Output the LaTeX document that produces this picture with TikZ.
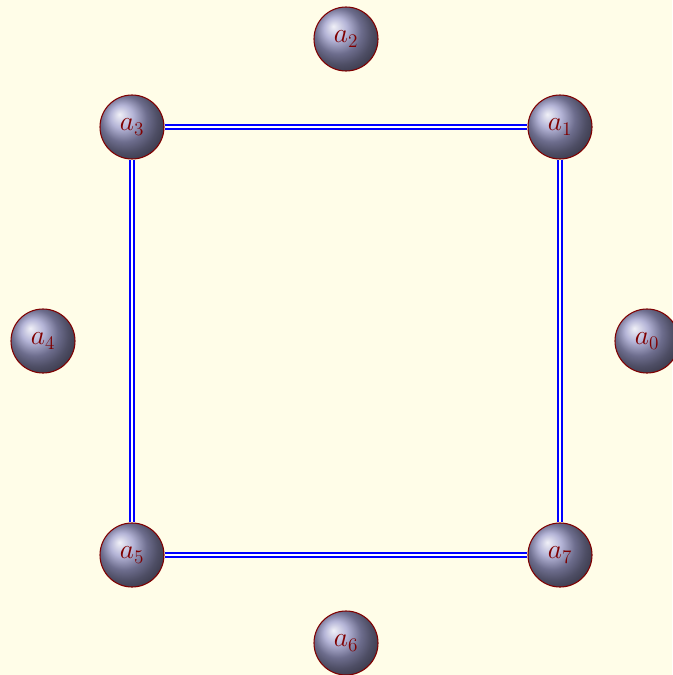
\documentclass[tikz,border=0pt]{standalone}
\definecolor{bgcream}{HTML}{FFFDE8}
\definecolor{labelred}{HTML}{800000}
\begin{document}
\begin{tikzpicture}[x=0.75pt,y=-0.75pt,
  ballnode/.style={circle,minimum size=48pt,inner sep=0pt,ball color=blue!30!gray!60!white,draw=labelred,line width=0.8pt,text=labelred,font=\fontsize{22}{26}\selectfont},
  dblline/.style={draw=blue,double=white,double distance=1.6pt,line width=1.5pt}]
\fill[bgcream] (0,0) rectangle (672,675);
\useasboundingbox (0,0) rectangle (672,675);
\node[ballnode] (a0) at (647,341) {$a_0$};
\node[ballnode] (a1) at (560,127) {$a_1$};
\node[ballnode] (a2) at (346,39) {$a_2$};
\node[ballnode] (a3) at (132,127) {$a_3$};
\node[ballnode] (a4) at (43,341) {$a_4$};
\node[ballnode] (a5) at (132,555) {$a_5$};
\node[ballnode] (a6) at (346,643) {$a_6$};
\node[ballnode] (a7) at (560,555) {$a_7$};
\draw[dblline] (a3) -- (a1);
\draw[dblline] (a1) -- (a7);
\draw[dblline] (a7) -- (a5);
\draw[dblline] (a5) -- (a3);
\end{tikzpicture}
\end{document}
